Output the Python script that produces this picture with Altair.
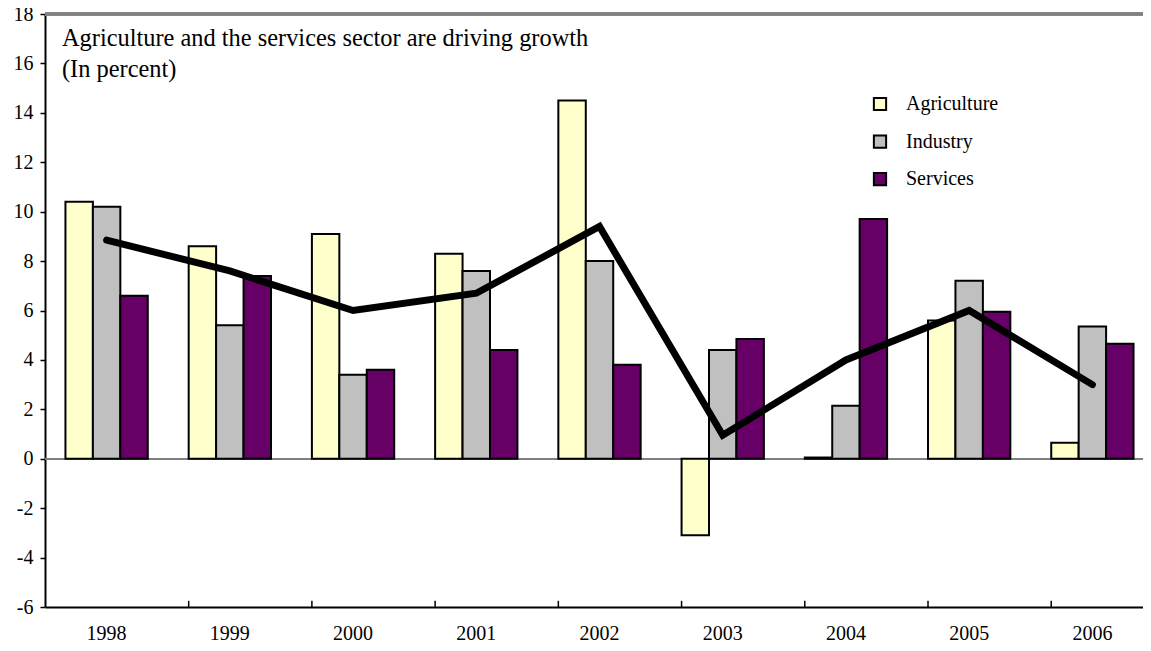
import altair as alt
import pandas as pd

years = ["1998", "1999", "2000", "2001", "2002", "2003", "2004", "2005", "2006"]
sectors = ["Agriculture", "Industry", "Services"]
agriculture = [10.4, 8.6, 9.1, 8.3, 14.5, -3.1, 0.05, 5.6, 0.65]
industry = [10.2, 5.4, 3.4, 7.6, 8.0, 4.4, 2.15, 7.2, 5.35]
services = [6.6, 7.4, 3.6, 4.4, 3.8, 4.85, 9.7, 5.95, 4.65]
total = [8.85, 7.6, 6.0, 6.7, 9.4, 0.95, 4.0, 6.0, 3.0]
colors = ["#FFFFCC", "#C0C0C0", "#660066"]
y_ticks = list(range(-6, 20, 2))
title_lines = ["Agriculture and the services sector are driving growth", "(In percent)"]

FONT = "Liberation Serif"

rows = []
for i, yr in enumerate(years):
    for s, vals in zip(sectors, [agriculture, industry, services]):
        rows.append({"year": yr, "sector": s, "value": vals[i]})
bars_df = pd.DataFrame(rows)
line_df = pd.DataFrame({"year": years, "value": total})
ticks_df = pd.DataFrame({"year": years[1:]})

x_scale = alt.Scale(domain=years, range=[0, 1109], paddingInner=0.332, paddingOuter=0.166)
y_scale = alt.Scale(domain=[-6, 18], nice=False, zero=False)

x_axis = alt.Axis(title=None, ticks=False, labelFont=FONT, labelFontSize=20,
                  labelColor="black", labelPadding=16, domainColor="black",
                  domainWidth=2, grid=False, labelAngle=0)
y_axis = alt.Axis(title=None, values=y_ticks, labelFont=FONT, labelFontSize=20,
                  labelColor="black", labelPadding=7, tickSize=5, tickColor="black",
                  tickWidth=1.5, domainColor="black", domainWidth=2, grid=False,
                  labelExpr="'' + datum.value")

bars = alt.Chart(bars_df).mark_bar(stroke="black", strokeWidth=2).encode(
    x=alt.X("year:N", scale=x_scale, axis=x_axis),
    xOffset=alt.XOffset("sector:N", sort=sectors, scale=alt.Scale(paddingInner=0, paddingOuter=0)),
    y=alt.Y("value:Q", scale=y_scale, axis=y_axis),
    color=alt.Color("sector:N", sort=sectors,
                    scale=alt.Scale(domain=sectors, range=colors),
                    legend=alt.Legend(title=None, orient="none", legendX=825, legendY=80,
                                      symbolType="square", symbolSize=150,
                                      symbolStrokeColor="black", symbolStrokeWidth=2,
                                      symbolOpacity=1,
                                      labelFont=FONT, labelFontSize=20, labelColor="black",
                                      labelOffset=16, rowPadding=15.6)),
)

zero = alt.Chart(line_df).mark_rule(color="#808080", strokeWidth=1.5).encode(y=alt.datum(0))
top = alt.Chart(line_df).mark_rule(color="#808080", strokeWidth=2.5).encode(y=alt.datum(18))

xticks = alt.Chart(ticks_df).mark_rule(color="black", strokeWidth=1.5).encode(
    x=alt.X("year:N", scale=x_scale, bandPosition=0),
    y=alt.datum(-6),
    y2=alt.datum(-5.75),
)

line = alt.Chart(line_df).mark_line(color="black", strokeWidth=7, strokeCap="round",
                                    strokeJoin="miter").encode(
    x=alt.X("year:N", scale=x_scale),
    y=alt.Y("value:Q", scale=y_scale),
)

chart = alt.layer(zero, bars, top, xticks, line).properties(
    width=1098,
    height=593,
    autosize=alt.AutoSizeParams(type="none"),
    padding={"left": 37, "top": 6, "right": 0, "bottom": 36},
    title=alt.TitleParams(text=title_lines, anchor="start", frame="group",
                          font=FONT, fontSize=24.4, fontWeight="normal", color="black",
                          baseline="alphabetic", lineHeight=31, dx=17, dy=97, offset=0),
).configure_view(stroke=None).configure(background="white")

chart.save("out.html", embed_options={"renderer": "svg", "actions": False})
